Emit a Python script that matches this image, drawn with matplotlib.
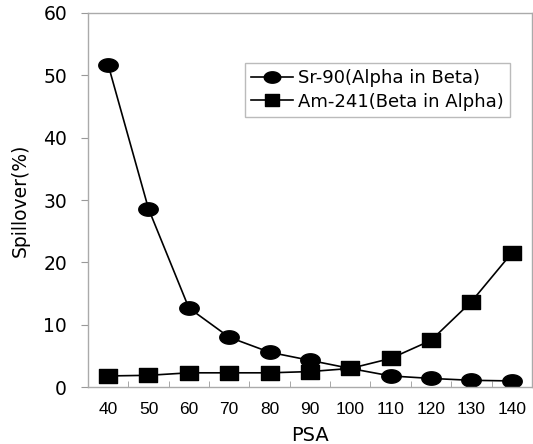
import numpy as np
import matplotlib
matplotlib.use('Agg')
import matplotlib.pyplot as plt
from matplotlib.path import Path

# 数据
psa = [40, 50, 60, 70, 80, 90, 100, 110, 120, 130, 140]
sr90 = [51.7, 28.6, 12.7, 8.0, 5.6, 4.3, 3.0, 1.8, 1.4, 1.1, 1.0]
am241 = [1.8, 1.9, 2.3, 2.3, 2.3, 2.5, 3.0, 4.6, 7.5, 13.7, 21.5]

plt.rcParams['font.family'] = ['DejaVu Sans']

# 稍微扁一点的圆和方块
t = np.linspace(0, 2 * np.pi, 60)
ellipse = Path(np.column_stack([1.45 * np.cos(t), np.sin(t)]), closed=True)
rect = Path([(-1.33, -1), (1.33, -1), (1.33, 1), (-1.33, 1), (-1.33, -1)], closed=True)

fig = plt.figure(figsize=(5.33, 4.44), dpi=100)
ax = fig.add_axes([0.165, 0.128, 0.833, 0.843])

ax.plot(psa, sr90, color='black', lw=1.2, marker=ellipse, ms=14, label='Sr-90(Alpha in Beta)')
ax.plot(psa, am241, color='black', lw=1.2, marker=rect, ms=12.5, label='Am-241(Beta in Alpha)')

ax.set_xlim(35, 145)
ax.set_ylim(0, 60)
ax.set_xticks(psa)
ax.set_xticks(np.arange(45, 140, 10), minor=True)
ax.set_yticks(range(0, 61, 10))
ax.tick_params(axis='x', which='major', length=0, pad=11)
ax.tick_params(axis='x', which='minor', direction='in', length=4, color='#999999')
ax.tick_params(axis='y', direction='out', length=5, color='#999999', labelsize=13.5, pad=10)
for lab in ax.get_xticklabels():
    lab.set_fontfamily('Liberation Sans')
    lab.set_fontsize(12.5)

for s in ax.spines.values():
    s.set_color('#aaaaaa')
    s.set_linewidth(1)

ax.set_xlabel('PSA', fontsize=14, labelpad=6)
ax.set_ylabel('Spillover(%)', fontsize=13.5, labelpad=10)

leg = ax.legend(loc='upper left', bbox_to_anchor=(0.353, 0.866), borderaxespad=0,
                fontsize=13, frameon=True, fancybox=False, edgecolor='#aaaaaa',
                handlelength=2.3, borderpad=0.35, labelspacing=0.3, handletextpad=0.3,
                markerscale=0.85)
leg.get_frame().set_linewidth(1)

fig.savefig('out.png', dpi=100)
